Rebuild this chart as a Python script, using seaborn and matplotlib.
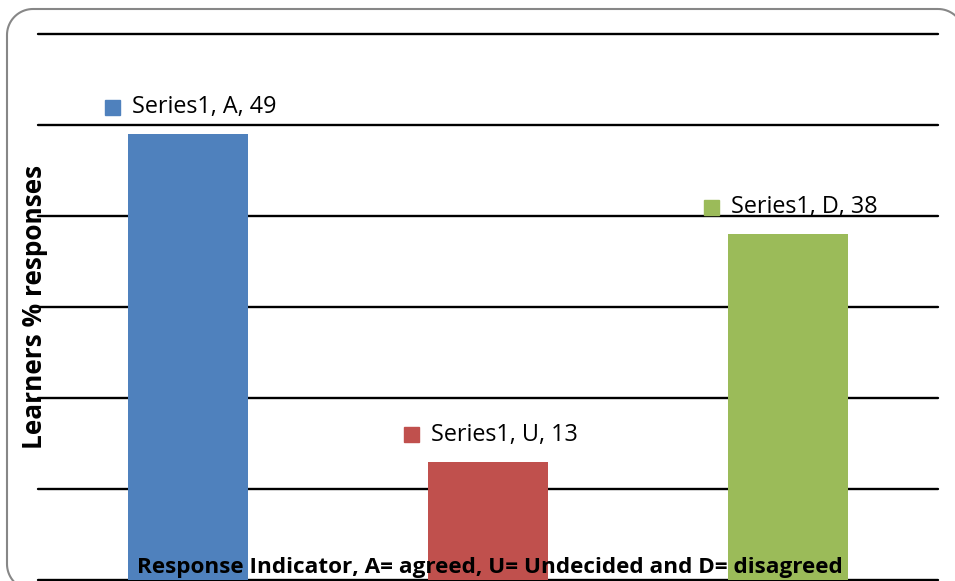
import numpy as np
import seaborn as sns
import matplotlib.pyplot as plt
from matplotlib.patches import Rectangle, Polygon
from matplotlib.offsetbox import DrawingArea, TextArea, HPacker, AnnotationBbox

# chart data
categories = ["A", "U", "D"]
values = [49, 13, 38]
series_name = "Series1"
colors = ["#4F81BD", "#C0504D", "#9BBB59"]
y_title = "Learners % responses"
x_title = "Response Indicator, A= agreed, U= Undecided and D= disagreed"

FONT = ["Open Sans", "DejaVu Sans"]
W, H = 955, 581


def add_frame(fig, left=7, top=9, right=964, bottom=590, r=26) -> None:
    """Rounded grey chart border (pixel units), cut off at right and bottom."""
    pts = []
    corners = [(right - r, top + r, -90, 0), (right - r, bottom - r, 0, 90),
               (left + r, bottom - r, 90, 180), (left + r, top + r, 180, 270)]
    for cx, cy, a0, a1 in corners:
        t = np.radians(np.linspace(a0, a1, 20))
        pts.extend(zip(cx + r * np.cos(t), cy + r * np.sin(t)))
    pts = np.array(pts)
    outline = np.column_stack([pts[:, 0] / W, 1 - pts[:, 1] / H])
    fig.add_artist(Polygon(outline, closed=True, fill=False,
                           transform=fig.transFigure,
                           edgecolor="#878787", linewidth=1.5))


def plot_responses() -> None:
    sns.set_style("white")
    plt.rcParams["font.family"] = FONT

    fig = plt.figure(figsize=(W / 100, H / 100), dpi=100)
    ax = fig.add_axes([38 / W, 1 / H, 900 / W, 546 / H])

    sns.barplot(x=categories, y=values, hue=categories, palette=colors,
                width=0.4, saturation=1, legend=False, linewidth=0,
                ax=ax, zorder=3)

    ax.set_ylim(0, 60)
    ax.set_xlim(-0.5, 2.5)
    ax.set_yticks(range(0, 61, 10))
    ax.grid(axis="y", color="black", linewidth=1.7, zorder=0)
    ax.set_axisbelow(True)
    # keep the top and bottom gridlines at full width
    for line in ax.get_ygridlines():
        line.set_clip_on(False)
    for spine in ax.spines.values():
        spine.set_visible(False)
    ax.set_xticks([])
    ax.tick_params(left=False, labelleft=False)
    ax.set_xlabel("")
    ax.set_ylabel("")

    # data labels with legend key
    for i, (cat, val) in enumerate(zip(categories, values)):
        key = DrawingArea(10.8, 10.8, 0, 0)
        key.add_artist(Rectangle((0, 0), 10.8, 10.8, color=colors[i]))
        txt = TextArea(f"{series_name}, {cat}, {val}",
                       textprops=dict(fontsize=16.8, color="black"))
        pack = HPacker(children=[key, txt], align="center", pad=0, sep=9)
        ab = AnnotationBbox(pack, (i, val), xybox=(2, 19.5),
                            xycoords="data", boxcoords="offset points",
                            box_alignment=(0.5, 0.5), frameon=False)
        ax.add_artist(ab)

    # axis titles
    fig.text(490 / W, 8 / H, x_title, ha="center", va="baseline",
             fontsize=16.2, fontweight="bold", color="black", zorder=5)
    fig.text(34 / W, 1 - 307 / H, y_title, rotation=90, ha="center",
             va="center", fontsize=18.9, fontweight="bold", color="black")

    add_frame(fig)

    fig.savefig("out.png", dpi=100)


if __name__ == "__main__":
    plot_responses()
